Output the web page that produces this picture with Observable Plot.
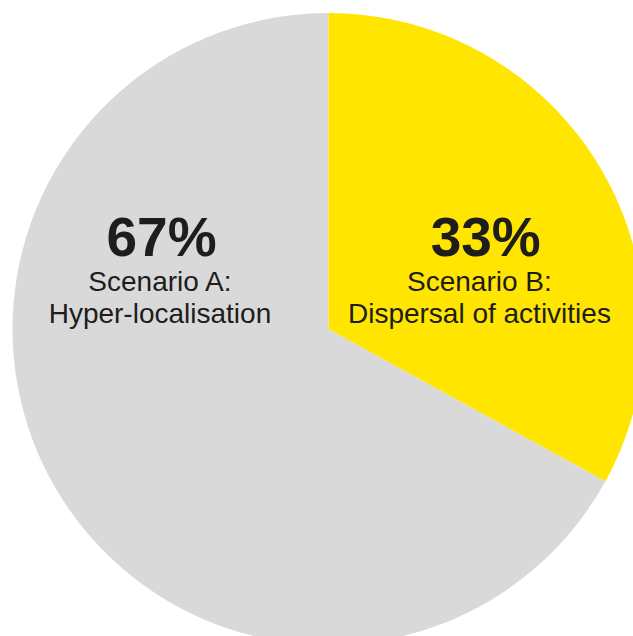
<!DOCTYPE html>
<html>
<head>
<meta charset="utf-8">
<script src="https://cdn.jsdelivr.net/npm/d3@7"></script>
<script src="https://cdn.jsdelivr.net/npm/@observablehq/plot@0.6"></script>
<style>
  html, body { margin: 0; padding: 0; background: #fff; }
  svg { display: block; }
</style>
</head>
<body>
<div id="chart"></div>
<script>
// Data
const categories = ["Scenario A: Hyper-localisation", "Scenario B: Dispersal of activities"];
const values = [67, 33];
const colors = ["#d9d9d9", "#ffe500"];

const data = categories.map((c, i) => ({category: c, value: values[i]}));

// Layout (in x/y scale units, radius = 1)
const labelX = {"Scenario A: Hyper-localisation": -0.535, "Scenario B: Dispersal of activities": 0.476};
const pctX = {"Scenario A: Hyper-localisation": -0.53, "Scenario B: Dispersal of activities": 0.496};

const color = Plot.scale({color: {type: "ordinal", domain: categories, range: colors}});

const arcs = d3.pie().value(d => d.value).sort((a, b) => d3.ascending(a.value, b.value))(data);

const pieMark = (index, scales) => {
  const cx = scales.x(0), cy = scales.y(0), r = scales.x(1) - scales.x(0);
  const arc = d3.arc().innerRadius(0).outerRadius(r);
  const g = d3.create("svg:g").attr("transform", `translate(${cx},${cy})`);
  g.selectAll("path").data(arcs).join("path")
    .attr("d", arc)
    .attr("fill", d => color.apply(d.data.category));
  return g.node();
};

const chart = Plot.plot({
  width: 633,
  height: 636,
  margin: 0,
  x: {domain: [-1.0396, 0.9636], axis: null},
  y: {domain: [-0.9715, 1.0411], axis: null},
  style: {fontFamily: "'Liberation Sans', Arial, sans-serif", background: "#fff"},
  marks: [
    pieMark,
    Plot.text(data, {
      x: d => pctX[d.category],
      y: 0.234,
      text: d => d.value + "%",
      fontSize: 55,
      fontWeight: "bold",
      fill: "#1d1d1b",
      lineAnchor: "bottom",
      textAnchor: "middle"
    }),
    Plot.text(data, {
      x: d => labelX[d.category],
      y: 0.022,
      text: d => d.category.replace(": ", ":\n"),
      fontSize: 28,
      lineHeight: 1.12,
      fill: "#1d1d1b",
      lineAnchor: "bottom",
      textAnchor: "middle"
    })
  ]
});

document.getElementById("chart").append(chart);
</script>
</body>
</html>
